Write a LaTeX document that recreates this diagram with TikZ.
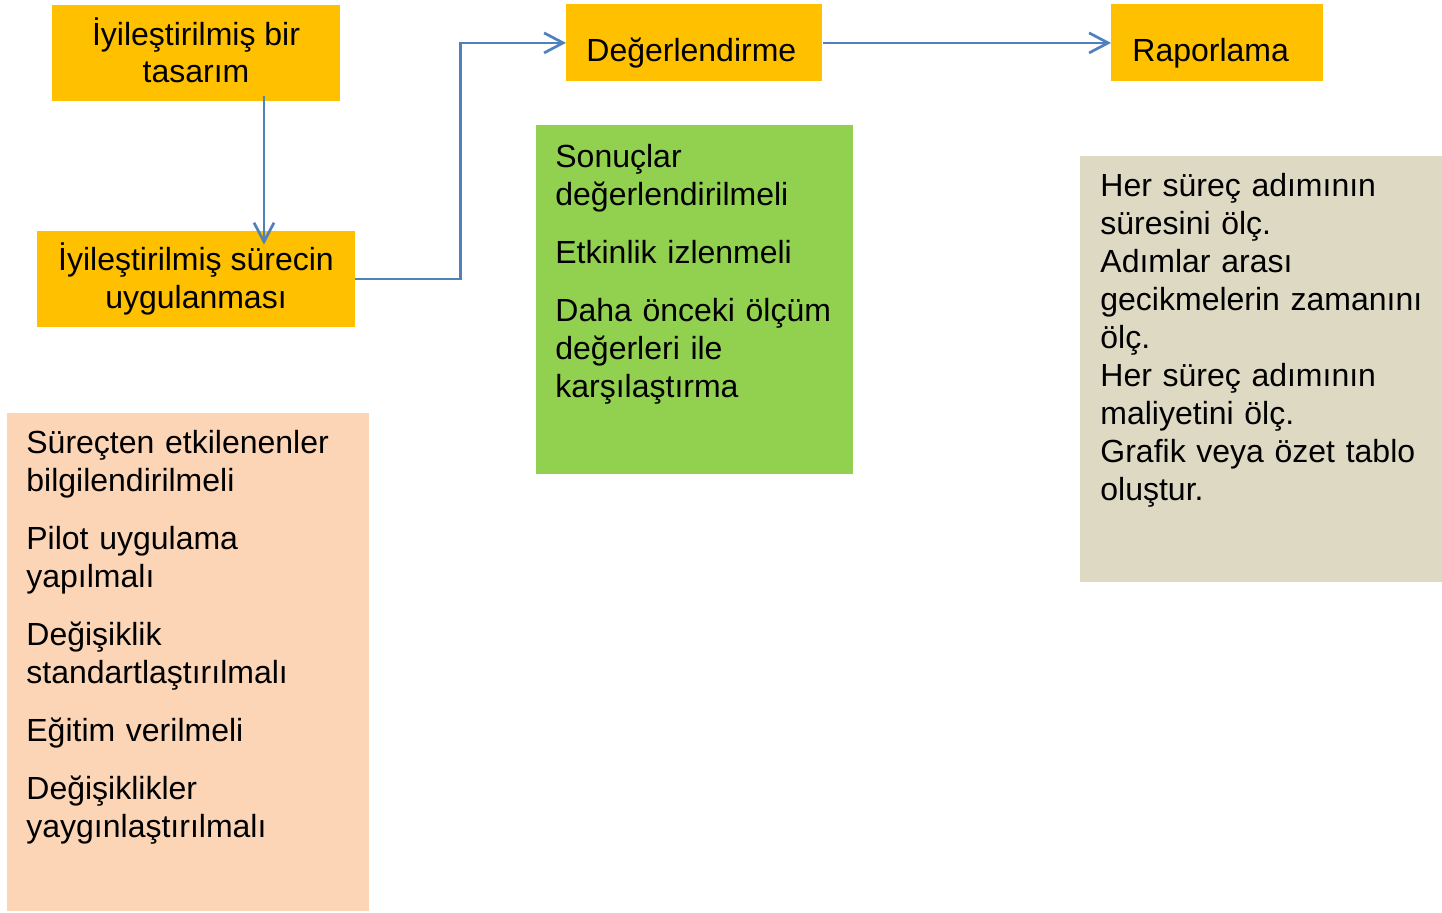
\documentclass[tikz,border=0pt]{standalone}
\usepackage{fontspec}
\setmainfont{Liberation Sans}
\usepackage{tikz}
\usetikzlibrary{arrows.meta, positioning}
\definecolor{stepClr}{HTML}{FFC000}
\definecolor{evalClr}{HTML}{92D050}
\definecolor{rollClr}{HTML}{FBD5B5}
\definecolor{reportClr}{HTML}{DDD9C3}
\definecolor{flowClr}{HTML}{4F81BD}
\newcommand\Txt{\fontsize{16pt}{19pt}\selectfont}

\begin{document}
\begin{tikzpicture}[x=0.5pt, y=-0.5pt,
    stepbox/.style = {fill=stepClr, inner sep=0pt, align=center, font=\Txt},
    titlebox/.style = {fill=stepClr, inner ysep=0pt, align=left, font=\Txt,
                       text height=28.5pt, text depth=10pt, anchor=north west},
    notebox/.style = {inner ysep=0pt, align=left, font=\Txt, anchor=north west},
    flow/.style = {draw=flowClr, line width=1.35pt,
                   -{Straight Barb[length=9.5pt, width=10pt, line width=1.35pt]}}]
    \useasboundingbox (0,0) rectangle (1442,912);
    % steps of the cycle
    \node [stepbox, minimum width=144pt, minimum height=48pt] (design) at (196,53)
        {İyileştirilmiş bir\\[-0.5pt]tasarım\vphantom{g}};
    \node [stepbox, minimum width=159pt, minimum height=48pt] (impl) at (196,279)
        {İyileştirilmiş sürecin\\uygulanması};
    \node [titlebox, inner xsep=10pt, text width=108pt] (eval) at (566,4) {Değerlendirme};
    \node [titlebox, inner xsep=10.5pt, text width=85pt] (report) at (1111,4) {Raporlama};
    % notes under each step
    \node [notebox, fill=rollClr, inner xsep=9.5pt, text width=162pt,
           text height=20pt, text depth=229pt] (rollout) at (7,413)
        {Süreçten etkilenenler\\bilgilendirilmeli\\[10pt]
         Pilot uygulama\\yapılmalı\\[10pt]
         Değişiklik\\standartlaştırılmalı\\[10pt]
         Eğitim verilmeli\\[10pt]
         Değişiklikler\\yaygınlaştırılmalı};
    \node [notebox, fill=evalClr, inner xsep=9.5pt, text width=139.5pt,
           text height=21pt, text depth=153.5pt] (checks) at (536,125)
        {Sonuçlar\\değerlendirilmeli\\[10pt]
         Etkinlik izlenmeli\\[10pt]
         Daha önceki ölçüm\\değerleri ile\\karşılaştırma};
    \node [notebox, fill=reportClr, inner xsep=10pt, text width=161pt,
           text height=20pt, text depth=193pt] (measures) at (1080,156)
        {Her süreç adımının\\süresini ölç.\\Adımlar arası\\gecikmelerin zamanını\\ölç.\\
         Her süreç adımının\\maliyetini ölç.\\Grafik veya özet tablo\\oluştur.};
    % connectors
    \coordinate (drop) at ([xshift=34pt]design.south);
    \draw [flow, shorten <=-2.5pt, shorten >=-7pt] (drop) -- (drop |- impl.north);
    \draw [flow] (impl.east) -- ++(52.5pt,0) |- (eval.west);
    \draw [flow] (eval.east) -- (report.west);
\end{tikzpicture}
\end{document}
